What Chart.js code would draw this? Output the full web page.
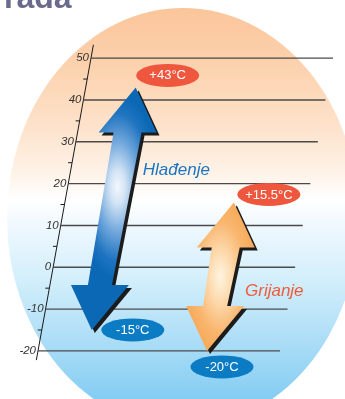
<!DOCTYPE html>
<html lang="hr">
<head>
<meta charset="UTF-8">
<title>Područje rada</title>
<script src="https://cdn.jsdelivr.net/npm/chart.js"></script>
<style>
  html, body { margin: 0; padding: 0; background: #fff; }
  #wrap { width: 345px; height: 399px; position: relative; }
</style>
</head>
<body>
<div id="wrap"><canvas id="chart"></canvas></div>
<script>
// data
const titleText = 'rada';
const tickValues = [50, 40, 30, 20, 10, 0, -10, -20];
const minorTicks = [45, 35, 25, 15, 5, -5, -15];
const modes = ['Hlađenje', 'Grijanje'];
const highTemps = [43, 15.5];
const lowTemps = [-15, -20];
const highLabels = ['+43°C', '+15.5°C'];
const lowLabels = ['-15°C', '-20°C'];

// layout (x scale runs 0..345 so one unit is one pixel)
const Y_MIN = -31.5, Y_MAX = 63.9;
const AXIS_X0 = 38;          // axis x at -20
const SLANT = 0.757;         // axis x shift per degree
const GRID_LEN = 242;
const AXIS_RANGE = [-22.2, 53.2];
const arrowCols = [50, 169]; // arrow distance from axis
const highBadgeOff = [[32, -12], [35, -8]];
const lowBadgeOff = [[41, 0], [15, 16]];
const modeLabelPos = [[73, 22], [197, -6.8]]; // [offset from axis, value]
const arrowStyles = [
  { hi: 0.41, stops: [[0, '#f2f7fd'], [0.18, '#d3e4f5'], [0.5, '#6fa6db'], [0.8, '#1f74c0'], [1, '#0b68b5']] },
  { hi: 0.5, stops: [[0, '#fff3e2'], [0.22, '#fde0b8'], [0.6, '#f9b66f'], [1, '#f5a24b']] }
];
const modeColors = ['#1b74c1', '#ef5b3a'];
const FONT = '"Liberation Sans", Arial, sans-serif';

const axisX = v => AXIS_X0 + (v + 20) * SLANT;

const gridSets = tickValues.map(v => ({
  data: [{ x: axisX(v), y: v }, { x: axisX(v) + GRID_LEN, y: v }],
  showLine: true, pointRadius: 0, borderColor: '#4a4a4a', borderWidth: 1.4, clip: false
}));
const axisSet = {
  data: AXIS_RANGE.map(v => ({ x: axisX(v), y: v })),
  showLine: true, pointRadius: 0, borderColor: '#1a1a1a', borderWidth: 1, clip: false
};

function arrowPath(ctx, top, bot, dx, dy) {
  const HL = 45, HW = 29, SW1 = 14, SW2 = 12;
  const s = (top.x - bot.x) / (bot.y - top.y);
  const cx = py => bot.x + (bot.y - py) * s;
  const yA = top.y + HL, yB = bot.y - HL;
  const pts = [[0, top.y], [HW, yA], [SW1, yA], [SW2, yB], [HW, yB], [0, bot.y],
               [-HW, yB], [-SW2, yB], [-SW1, yA], [-HW, yA]];
  ctx.beginPath();
  pts.forEach(([u, py], i) => {
    const x = cx(py) + u + dx, y = py + dy;
    i ? ctx.lineTo(x, y) : ctx.moveTo(x, y);
  });
  ctx.closePath();
  return cx;
}

const bgPlugin = {
  id: 'bg',
  beforeDraw(chart) {
    const ctx = chart.ctx;
    ctx.save();
    const g = ctx.createLinearGradient(0, 8, 0, 399);
    g.addColorStop(0, '#fbc59a');
    g.addColorStop(0.15, '#fcd2ae');
    g.addColorStop(0.3, '#fde2cb');
    g.addColorStop(0.42, '#fef2e7');
    g.addColorStop(0.49, '#ffffff');
    g.addColorStop(0.56, '#eef8fe');
    g.addColorStop(0.7, '#d2eefb');
    g.addColorStop(0.86, '#aadcf6');
    g.addColorStop(1, '#84cdf3');
    ctx.fillStyle = g;
    ctx.beginPath();
    ctx.ellipse(183, 218, 176, 210, 0, 0, Math.PI * 2);
    ctx.fill();
    ctx.fillStyle = '#6a6a8c';
    ctx.font = 'bold 32px ' + FONT;
    ctx.textBaseline = 'alphabetic';
    ctx.fillText(titleText, 4, 8);
    ctx.restore();
  }
};

const markPlugin = {
  id: 'marks',
  afterDatasetsDraw(chart) {
    const ctx = chart.ctx, xs = chart.scales.x, ys = chart.scales.y;
    const px = (u, v) => ({ x: xs.getPixelForValue(u), y: ys.getPixelForValue(v) });
    ctx.save();
    // tick labels
    ctx.font = 'italic 11.5px ' + FONT;
    ctx.fillStyle = '#333';
    ctx.textAlign = 'right';
    ctx.textBaseline = 'middle';
    tickValues.forEach(v => {
      const p = px(axisX(v), v);
      ctx.fillText(String(v), p.x - 2, p.y);
    });
    // minor ticks
    ctx.strokeStyle = '#1a1a1a';
    ctx.lineWidth = 1;
    minorTicks.forEach(v => {
      const p = px(axisX(v), v);
      ctx.beginPath();
      ctx.moveTo(p.x - 4, p.y);
      ctx.lineTo(p.x, p.y);
      ctx.stroke();
    });
    // arrows
    modes.forEach((m, i) => {
      const top = px(axisX(highTemps[i]) + arrowCols[i], highTemps[i]);
      const bot = px(axisX(lowTemps[i]) + arrowCols[i], lowTemps[i]);
      arrowPath(ctx, top, bot, 3, 3);
      ctx.fillStyle = '#1c1c1c';
      ctx.fill();
      const cx = arrowPath(ctx, top, bot, 0, 0);
      const st = arrowStyles[i];
      const hy = top.y + (bot.y - top.y) * st.hi;
      ctx.save();
      ctx.translate(cx(hy), hy);
      ctx.scale(1, 2.2);
      const g = ctx.createRadialGradient(0, 0, 0, 0, 0, 42);
      st.stops.forEach(([o, c]) => g.addColorStop(o, c));
      ctx.fillStyle = g;
      ctx.fill();
      ctx.restore();
    });
    // badges
    const badge = (p, off, text, color) => {
      const x = p.x + off[0], y = p.y + off[1];
      ctx.fillStyle = color;
      ctx.beginPath();
      ctx.ellipse(x, y, 31.5, 11.5, 0, 0, Math.PI * 2);
      ctx.fill();
      ctx.fillStyle = '#fff';
      ctx.font = '13px ' + FONT;
      ctx.textAlign = 'center';
      ctx.textBaseline = 'middle';
      ctx.fillText(text, x, y + 0.5);
    };
    modes.forEach((m, i) => {
      badge(px(axisX(highTemps[i]) + arrowCols[i], highTemps[i]), highBadgeOff[i], highLabels[i], '#ee573d');
      badge(px(axisX(lowTemps[i]) + arrowCols[i], lowTemps[i]), lowBadgeOff[i], lowLabels[i], '#0b7cc4');
    });
    // mode names
    ctx.font = 'italic 17px ' + FONT;
    ctx.textAlign = 'left';
    ctx.textBaseline = 'alphabetic';
    modes.forEach((m, i) => {
      const [off, v] = modeLabelPos[i];
      const p = px(axisX(v) + off, v);
      ctx.fillStyle = modeColors[i];
      ctx.fillText(m, p.x, p.y);
    });
    ctx.restore();
  }
};

new Chart(document.getElementById('chart'), {
  type: 'scatter',
  data: { datasets: [...gridSets, axisSet] },
  options: {
    responsive: true,
    maintainAspectRatio: false,
    animation: false,
    events: [],
    layout: { padding: 0 },
    plugins: { legend: { display: false }, tooltip: { enabled: false } },
    scales: {
      x: { type: 'linear', min: 0, max: 345, display: false },
      y: { type: 'linear', min: Y_MIN, max: Y_MAX, display: false }
    }
  },
  plugins: [bgPlugin, markPlugin]
});
</script>
</body>
</html>
